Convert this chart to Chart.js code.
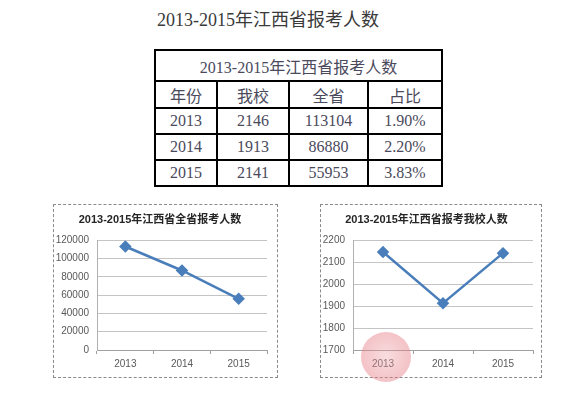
<!DOCTYPE html>
<html><head><meta charset="utf-8">
<script src="https://cdn.jsdelivr.net/npm/chart.js@4/dist/chart.umd.min.js"></script>
<style>
body{margin:0;width:580px;height:397px;background:#fff;position:relative;overflow:hidden;font-family:"Liberation Serif","Noto Sans CJK SC",serif;}
#title{position:absolute;left:157px;top:9px;font-size:18px;color:#3a3a3a;line-height:22px;white-space:nowrap;}
#tbl{position:absolute;left:154px;top:49px;border-collapse:collapse;color:#4a4a5c;font-size:16px;}
#tbl td{border:2px solid #000;text-align:center;padding:0;box-sizing:border-box;white-space:nowrap;}
.box{position:absolute;border:1px dashed #8a8a8a;box-sizing:border-box;}
canvas{position:absolute;}
#stamp{position:absolute;left:361px;top:332px;width:50px;height:50px;border-radius:50%;background:radial-gradient(circle,rgba(240,170,175,0.4) 0%,rgba(228,120,130,0.45) 70%,rgba(215,90,100,0.55) 100%);}
</style></head>
<body>
<div id="title"></div>
<table id="tbl"></table>
<div class="box" style="left:53px;top:204px;width:225px;height:174px;"></div>
<canvas id="c1" width="224" height="173" style="left:53px;top:204px;"></canvas>
<div class="box" style="left:320px;top:204px;width:222px;height:174px;"></div>
<canvas id="c2" width="222" height="173" style="left:320px;top:204px;"></canvas>
<div id="stamp"></div>
<script>
const years = ['2013', '2014', '2015'];
const schoolCounts = [2146, 1913, 2141];
const provinceCounts = [113104, 86880, 55953];
const ratios = ['1.90%', '2.20%', '3.83%'];
const headers = ['年份', '我校', '全省', '占比'];
const mainTitle = '2013-2015年江西省报考人数';
const chart1Title = '2013-2015年江西省全省报考人数';
const chart2Title = '2013-2015年江西省报考我校人数';
const yTicks1 = [0, 20000, 40000, 60000, 80000, 100000, 120000];
const yTicks2 = [1700, 1800, 1900, 2000, 2100, 2200];

document.getElementById('title').textContent = mainTitle;

const colW = [62, 72, 79, 74];
const rowH = [31, 27, 26, 26, 26];
const tbl = document.getElementById('tbl');
let html = '<tr><td colspan="4" style="height:' + rowH[0] + 'px">' + mainTitle + '</td></tr>';
html += '<tr>' + headers.map((h, i) => '<td style="width:' + colW[i] + 'px;height:' + rowH[1] + 'px">' + h + '</td>').join('') + '</tr>';
years.forEach((y, r) => {
  const cells = [y, schoolCounts[r], provinceCounts[r], ratios[r]];
  html += '<tr>' + cells.map((c, i) => '<td style="width:' + colW[i] + 'px;height:' + rowH[r + 2] + 'px">' + c + '</td>').join('') + '</tr>';
});
tbl.innerHTML = html;

const F = '"Liberation Sans","Noto Sans CJK SC",sans-serif';
const LINE = '#4a7ebb';

function makeChart(id, title, values, ticks, yWidth, padRight) {
  const step = ticks[1] - ticks[0];
  return new Chart(document.getElementById(id), {
    type: 'line',
    data: {
      labels: years,
      datasets: [{
        data: values,
        borderColor: LINE,
        backgroundColor: LINE,
        borderWidth: 2.5,
        pointStyle: 'rectRot',
        pointRadius: 4.5,
        pointBackgroundColor: LINE,
        pointBorderColor: LINE,
        tension: 0
      }]
    },
    options: {
      responsive: false,
      animation: false,
      layout: { padding: { left: 0, right: padRight, top: 0, bottom: 0 } },
      plugins: {
        legend: { display: false },
        tooltip: { enabled: false },
        title: {
          display: true, text: title, color: '#262626',
          font: { family: F, size: 11, weight: 'bold' },
          padding: { top: 9, bottom: 14 }
        }
      },
      scales: {
        x: {
          offset: true,
          grid: { display: true, drawOnChartArea: false, offset: true, tickLength: 4, color: '#a0a0a0' },
          border: { display: true, color: '#a0a0a0' },
          ticks: { font: { family: F, size: 10 }, color: '#595959', padding: 4 },
          afterFit: s => { s.height = 27; }
        },
        y: {
          min: ticks[0], max: ticks[ticks.length - 1],
          afterBuildTicks: s => { s.ticks = ticks.map(v => ({ value: v })); },
          ticks: { stepSize: step, font: { family: F, size: 10 }, color: '#595959', padding: 8,
                   callback: v => String(v) },
          grid: { color: '#c4c4c4', drawTicks: false, tickLength: 0 },
          border: { display: true, color: '#b0b0b0' },
          afterFit: s => { s.width = yWidth; }
        }
      }
    }
  });
}

makeChart('c1', chart1Title, provinceCounts, yTicks1, 44, 10);
makeChart('c2', chart2Title, schoolCounts, yTicks2, 33, 9);
</script>
</body></html>
